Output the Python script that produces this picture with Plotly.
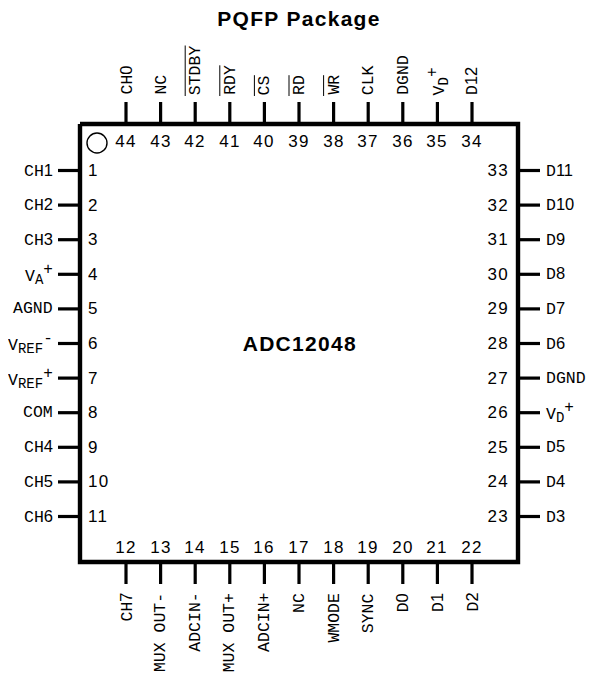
import re
import plotly.graph_objects as go

TITLE = "PQFP Package"
PART = "ADC12048"
LEFT_PINS = ["CH1", "CH2", "CH3", "V_A^+", "AGND", "V_REF^-", "V_REF^+", "COM", "CH4", "CH5", "CH6"]
BOTTOM_PINS = ["CH7", "MUX OUT-", "ADCIN-", "MUX OUT+", "ADCIN+", "NC", "WMODE", "SYNC", "D0", "D1", "D2"]
RIGHT_PINS = ["D3", "D4", "D5", "V_D^+", "DGND", "D6", "D7", "D8", "D9", "D10", "D11"]
TOP_PINS = ["D12", "V_D^+", "DGND", "CLK", "WR", "RD", "CS", "RDY", "STDBY", "NC", "CH0"]
ACTIVE_LOW = ["WR", "RD", "CS", "RDY", "STDBY"]

L, R, T, B = 80, 518, 124, 562
FIRST, PITCH, STUB = 170.5, 34.6, 22
HFIRST = 126
FONT = "Liberation Mono"
NUMFONT = "Liberation Sans"
SIZE = 16.5
BLACK = "#000000"


def markup(name):
    m = re.fullmatch(r"V_(\w+)\^(.)", name)
    if not m:
        return re.sub(r"(\d+)", rf'<span style="font-family:{NUMFONT}">\1</span>', name)
    return (f'V<sub><span style="font-size:14px">{m[1]}</span></sub>'
            f'<sup><span style="font-size:16px">{m[2]}</span></sup>')


fig = go.Figure()


def seg(x0, y0, x1, y1, w=3.2):
    fig.add_trace(go.Scatter(x=[x0, x1], y=[y0, y1], mode="lines", hoverinfo="skip",
                             line=dict(color=BLACK, width=w)))


def txt(x, y, s, xa="center", ya="middle", ang=0, size=SIZE, fam=FONT, bold=False, width=None, align="center"):
    fig.add_annotation(x=x, y=y, text=f"<b>{s}</b>" if bold else s, showarrow=False,
                       xanchor=xa, yanchor=ya, textangle=ang, xref="x", yref="y",
                       borderpad=0, borderwidth=0, width=width, align=align,
                       font=dict(family=fam, size=size, color=BLACK))


def num(x, y, pin, xa="center"):
    align = {"left": "left", "right": "right"}.get(xa, "center")
    txt(x, y, str(pin), xa=xa, fam=NUMFONT, size=17, width=30, align=align)


fig.add_trace(go.Scatter(x=[L, R, R, L, L], y=[T, T, B, B, T], mode="lines", hoverinfo="skip",
                         line=dict(color=BLACK, width=4.4)))
fig.add_trace(go.Scatter(x=[97], y=[143], mode="markers", hoverinfo="skip",
                         marker=dict(symbol="circle-open", size=20, color=BLACK, line=dict(width=1.4, color=BLACK))))

pin = 1
for i, name in enumerate(LEFT_PINS):
    y = FIRST + PITCH * i
    seg(L - STUB, y, L, y)
    txt(L - STUB - 5, y, markup(name), xa="right")
    num(L + 8, y, pin, xa="left")
    pin += 1
for i, name in enumerate(BOTTOM_PINS):
    x = HFIRST + PITCH * i
    seg(x, B, x, B + STUB)
    txt(x, B + STUB + 9, markup(name), ya="top", ang=-90)
    num(x, B - 15, pin)
    pin += 1
for i, name in enumerate(RIGHT_PINS):
    y = FIRST + PITCH * (10 - i)
    seg(R, y, R + STUB, y)
    txt(R + STUB + 6, y, markup(name), xa="left")
    num(R - 9, y, pin, xa="right")
    pin += 1
for i, name in enumerate(TOP_PINS):
    x = HFIRST + PITCH * (10 - i)
    seg(x, T, x, T - STUB)
    txt(x, T - STUB - 7, markup(name), ya="bottom", ang=-90)
    num(x, T + 17, pin)
    if name in ACTIVE_LOW:
        seg(x - 10, T - STUB - 6, x - 10, T - STUB - 6 - 9.9 * len(name) - 1, w=1)
    pin += 1

txt(299, 18.5, TITLE, size=21, fam="Liberation Sans", bold=True, width=190)
txt(300, 343, PART, size=21, fam="Liberation Sans", bold=True, width=140)

fig.update_layout(
    width=589, height=668, margin=dict(l=0, r=0, t=0, b=0),
    paper_bgcolor="white", plot_bgcolor="white", showlegend=False,
    xaxis=dict(range=[8, 597], visible=False, fixedrange=True),
    yaxis=dict(range=[676, 8], visible=False, fixedrange=True),
)
css = "text.annotation-text[style*='Liberation Sans']{letter-spacing:1.3px}"
post = ("var s=document.createElement('style');s.textContent=" + repr(css) +
        ";document.head.appendChild(s);")
fig.write_html("out.html", config=dict(displayModeBar=False), post_script=post)
